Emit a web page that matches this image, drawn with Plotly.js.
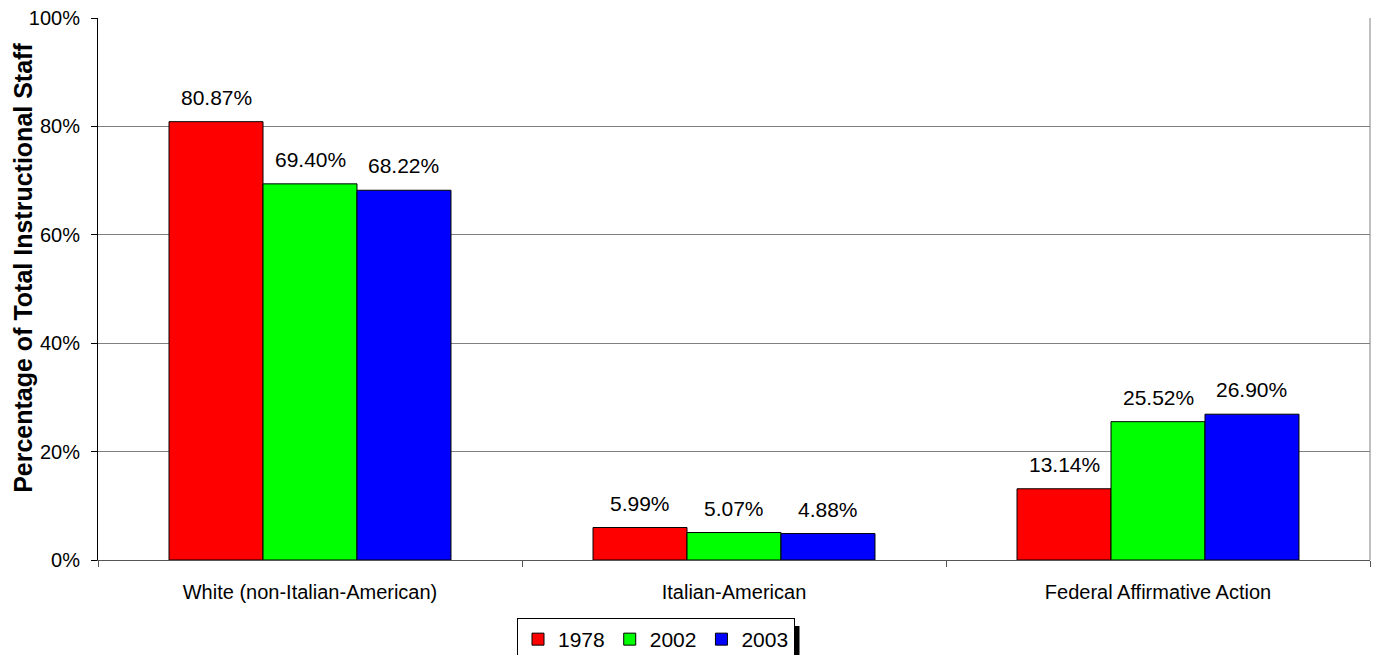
<!DOCTYPE html>
<html>
<head>
<meta charset="utf-8">
<script src="https://cdn.plot.ly/plotly-3.0.1.min.js"></script>
<style>html,body{margin:0;padding:0;background:#fff;}#chart{width:1379px;height:655px;}</style>
</head>
<body>
<div id="chart"></div>
<script>
var categories = ["White (non-Italian-American)", "Italian-American", "Federal Affirmative Action"];
var seriesNames = ["1978", "2002", "2003"];
var values1978 = [80.87, 5.99, 13.14];
var values2002 = [69.40, 5.07, 25.52];
var values2003 = [68.22, 4.88, 26.90];
var yTickValues = [0, 20, 40, 60, 80, 100];
var yTickLabels = ["0%", "20%", "40%", "60%", "80%", "100%"];
var yTitle = "Percentage of Total Instructional Staff";

var colors = ["#FF0000", "#00FF00", "#0000FF"];
var allValues = [values1978, values2002, values2003];
var FONT = "Arial, 'Liberation Sans', sans-serif";
var BARGAP = 0.335;

var traces = allValues.map(function(vals, i) {
  return {
    type: "bar",
    name: seriesNames[i],
    x: categories,
    y: vals,
    marker: {color: colors[i], line: {color: "#000000", width: 1}},
    hoverinfo: "x+y"
  };
});

// value labels above each bar, placed in axis coordinates
var barW = (1 - BARGAP) / allValues.length;
var annotations = [];
allValues.forEach(function(vals, s) {
  vals.forEach(function(v, c) {
    annotations.push({
      xref: "x", yref: "y",
      x: c + (s - (allValues.length - 1) / 2) * barW,
      y: v,
      text: v.toFixed(2) + "%",
      showarrow: false,
      yanchor: "bottom",
      yshift: 11,
      font: {family: FONT, size: 21, color: "#000"}
    });
  });
});
annotations.push({
  xref: "paper", yref: "paper", x: 0, y: 0.539,
  xanchor: "center", yanchor: "middle", xshift: -75,
  textangle: -90, showarrow: false,
  text: "<b>" + yTitle + "</b>",
  font: {family: FONT, size: 25, color: "#000"}
});

var layout = {
  width: 1379, height: 655,
  margin: {l: 98, r: 9, t: 18, b: 95},
  paper_bgcolor: "#fff", plot_bgcolor: "#fff",
  font: {family: FONT, color: "#000"},
  barmode: "group",
  bargap: BARGAP,
  bargroupgap: 0,
  showlegend: true,
  legend: {
    orientation: "h",
    xref: "container", yref: "container",
    x: 656 / 1379, xanchor: "center",
    y: 1 - 618 / 655, yanchor: "top",
    bordercolor: "#000", borderwidth: 1,
    font: {family: FONT, size: 21, color: "#000"},
    itemwidth: 30,
    tracegroupgap: 0
  },
  xaxis: {
    type: "category",
    showgrid: false,
    showline: true, linecolor: "#555", linewidth: 1,
    ticks: "outside", tickson: "boundaries", ticklen: 6, tickcolor: "#555",
    ticklabelstandoff: 14,
    tickfont: {family: FONT, size: 20, color: "#000"},
    fixedrange: true
  },
  yaxis: {
    range: [0, 100],
    tickvals: yTickValues, ticktext: yTickLabels,
    showgrid: true, gridcolor: "#808080", gridwidth: 1,
    showline: true, linecolor: "#000", linewidth: 1,
    ticks: "outside", ticklen: 6, tickcolor: "#000",
    ticklabelstandoff: 7,
    tickfont: {family: FONT, size: 20, color: "#000"},
    zeroline: false,
    fixedrange: true
  },
  annotations: annotations,
  shapes: [
    {type: "line", xref: "paper", yref: "paper", x0: 1, x1: 1, y0: 0, y1: 1, line: {color: "#808080", width: 1}},
    {type: "rect", xref: "paper", yref: "paper", x0: 0.5475, x1: 0.5515, y0: -0.1218, y1: -0.178, fillcolor: "#000", line: {width: 0}}
  ]
};

Plotly.newPlot("chart", traces, layout, {displayModeBar: false, staticPlot: true});
</script>
</body>
</html>
